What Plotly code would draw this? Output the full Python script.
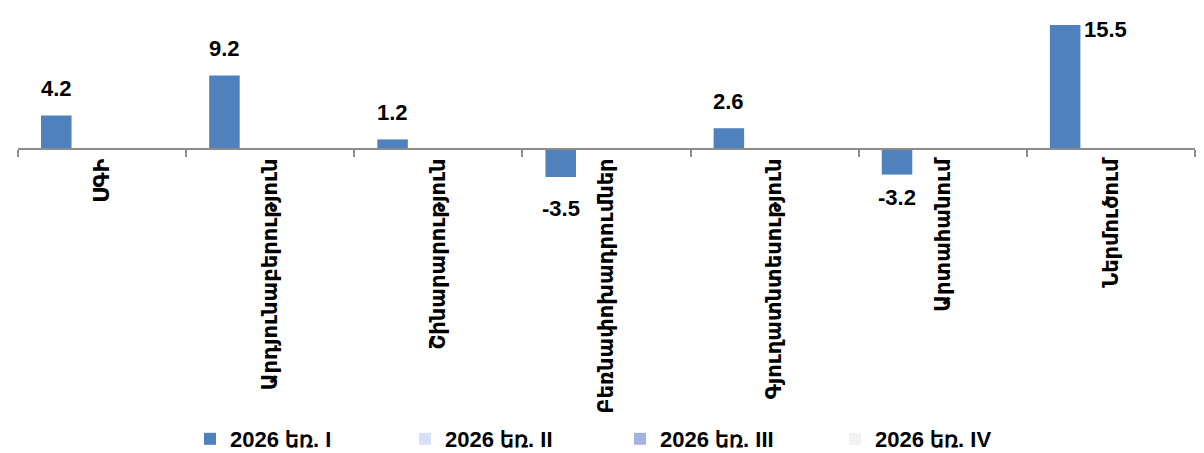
import plotly.graph_objects as go

categories = ["ՍԳԻ", "Արդյունաբերություն", "Շինարարություն", "Բեռնափոխադրումներ",
              "Գյուղատնտեսություն", "Արտահանում", "Ներմուծում"]
series_names = ["2026 եռ. I", "2026 եռ. II", "2026 եռ. III", "2026 եռ. IV"]
q1_values = [4.2, 9.2, 1.2, -3.5, 2.6, -3.2, 15.5]
q2_values = [None] * 7
q3_values = [None] * 7
q4_values = [None] * 7

colors = ["#4F81BD", "#D9DFF7", "#A6B1E1", "#F2F2F2"]
series_values = [q1_values, q2_values, q3_values, q4_values]

W, H = 1204, 453
ML, MR = 18, 9
zero_px = 149
top_px, bot_px = 5, 181
y_top, y_bot = 18, -4

fig = go.Figure()
for name, vals, col in zip(series_names, series_values, colors):
    fig.add_trace(go.Bar(x=categories, y=vals, name=name, marker_color=col,
                         marker_line_width=0))

# data labels as annotations
bargap = 0.274
cat_w = (W - ML - MR) / len(categories)
bar_w = (1 - bargap) * cat_w / 4
x_off = -1.5 * bar_w
label_font = dict(family="Liberation Sans, Arial", size=22, color="black", weight="bold")
for i, (c, v) in enumerate(zip(categories, q1_values)):
    if i == len(categories) - 1:
        fig.add_annotation(x=c, y=v, text=f"{v}", showarrow=False, xref="x", yref="y",
                           xanchor="left", yanchor="middle", xshift=x_off + bar_w / 2 + 2,
                           yshift=-4, font=label_font)
    elif v >= 0:
        fig.add_annotation(x=c, y=v, text=f"{v}", showarrow=False, xref="x", yref="y",
                           xanchor="center", yanchor="middle", xshift=x_off, yshift=27,
                           font=label_font)
    else:
        fig.add_annotation(x=c, y=v, text=f"{v}", showarrow=False, xref="x", yref="y",
                           xanchor="center", yanchor="middle", xshift=x_off,
                           yshift=-31 if v < -3.3 else -23, font=label_font)

fig.update_layout(
    width=W, height=H,
    margin=dict(l=ML, r=MR, t=0, b=0, autoexpand=False),
    paper_bgcolor="white", plot_bgcolor="white",
    barmode="group", bargap=bargap, bargroupgap=0,
    showlegend=True,
    legend=dict(orientation="h", x=(190 - ML) / (W - ML - MR), xanchor="left",
                y=1 - 439 / H, yanchor="middle",
                font=dict(family="Liberation Sans, Arial", size=22, color="black",
                          weight="bold"),
                entrywidth=170, itemwidth=30, traceorder="normal"),
    xaxis=dict(type="category", anchor="free", position=1 - zero_px / H,
               automargin=False,
               showline=True, linecolor="#8C8C8C", linewidth=2,
               ticks="outside", tickson="boundaries", ticklen=7, tickwidth=1.5,
               tickcolor="#8C8C8C", tickangle=-90, showgrid=False, zeroline=False,
               tickfont=dict(family="DejaVu Sans", size=21, color="black", weight="bold")),
    yaxis=dict(range=[y_bot, y_top], domain=[1 - bot_px / H, 1 - top_px / H],
               automargin=False,
               visible=False, showgrid=False, zeroline=False),
)

fig.write_html("out.html", config={"displayModeBar": False},
               post_script="document.body.style.margin='0';document.body.style.overflow='hidden';")
